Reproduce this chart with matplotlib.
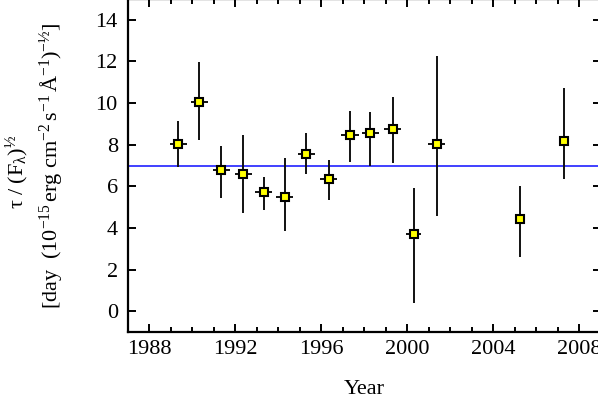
import numpy as np
import matplotlib
matplotlib.use("Agg")
import matplotlib.pyplot as plt
from matplotlib.ticker import MultipleLocator

plt.rcParams['font.family'] = ['Liberation Serif', 'DejaVu Serif']
plt.rcParams['mathtext.fontset'] = 'custom'
plt.rcParams['mathtext.rm'] = 'Liberation Serif'
plt.rcParams['mathtext.it'] = 'Liberation Serif:italic'
plt.rcParams['mathtext.bf'] = 'Liberation Serif:bold'

# data
years = [1989.36, 1990.33, 1991.36, 1992.38, 1993.32, 1994.30, 1995.31, 1996.34,
         1997.34, 1998.29, 1999.32, 2000.30, 2001.37, 2005.23, 2007.26]
values = [8.03, 10.06, 6.76, 6.57, 5.71, 5.51, 7.56, 6.33,
          8.48, 8.54, 8.77, 3.69, 8.03, 4.42, 8.19]
upper = [9.15, 11.99, 7.93, 8.46, 6.43, 7.34, 8.57, 7.26,
         9.62, 9.55, 10.30, 5.90, 12.26, 6.01, 10.71]
lower = [6.94, 8.22, 5.42, 4.70, 4.86, 3.86, 6.57, 5.34,
         7.18, 6.97, 7.10, 0.37, 4.57, 2.60, 6.36]
xerr = [0.4, 0.4, 0.4, 0.4, 0.4, 0.4, 0.4, 0.4,
        0.4, 0.4, 0.4, 0.35, 0.4, 0.0, 0.0]
mean_level = 7.0

years = np.array(years)
values = np.array(values)
yerr = np.array([values - np.array(lower), np.array(upper) - values])

fig = plt.figure(figsize=(5.98, 4.0), dpi=100)
ax = fig.add_axes([127.5 / 598, 68 / 400, (601 - 127.5) / 598, 333 / 400])

ax.axhline(mean_level, color='#2020ff', lw=1.2, zorder=1)
ax.errorbar(years, values, yerr=yerr, xerr=xerr, fmt='none', ecolor='#111111',
            elinewidth=1.4, capsize=0, zorder=2)
ax.plot(years, values, 's', ms=6.3, mfc='#ffff00', mec='black', mew=1.5, zorder=3)

ax.set_xlim(1987, 2009)
ax.set_ylim(-1, 15)
ax.xaxis.set_major_locator(MultipleLocator(4))
ax.xaxis.set_minor_locator(MultipleLocator(1))
ax.yaxis.set_major_locator(MultipleLocator(2))
ax.tick_params(which='both', direction='in', top=True, right=True, width=1.4,
               labelsize=16)
ax.tick_params(which='major', length=6)
ax.tick_params(which='minor', length=3.6)
ax.tick_params(axis='x', pad=6)
ax.tick_params(axis='y', pad=7)
for s in ax.spines.values():
    s.set_linewidth(1.6)

ax.set_xlabel('Year', fontsize=16, labelpad=15)

fig.text(17 / 598, 0.5 + (200 - 172) / 400, r'$\mathrm{τ}\ /\ (\mathrm{F}_{\mathrm{λ}})^{½}$',
         rotation=90, ha='center', va='center', fontsize=16)
fig.text(51 / 598, 0.5 + (200 - 166) / 400,
         r'$[\mathrm{day}\ \ (10^{-15}\,\mathrm{erg\ cm}^{-2}\,\mathrm{s}^{-1}\,\mathrm{\AA}^{-1})^{-½}]$',
         rotation=90, ha='center', va='center', fontsize=16)

fig.savefig('out.png', dpi=100)
